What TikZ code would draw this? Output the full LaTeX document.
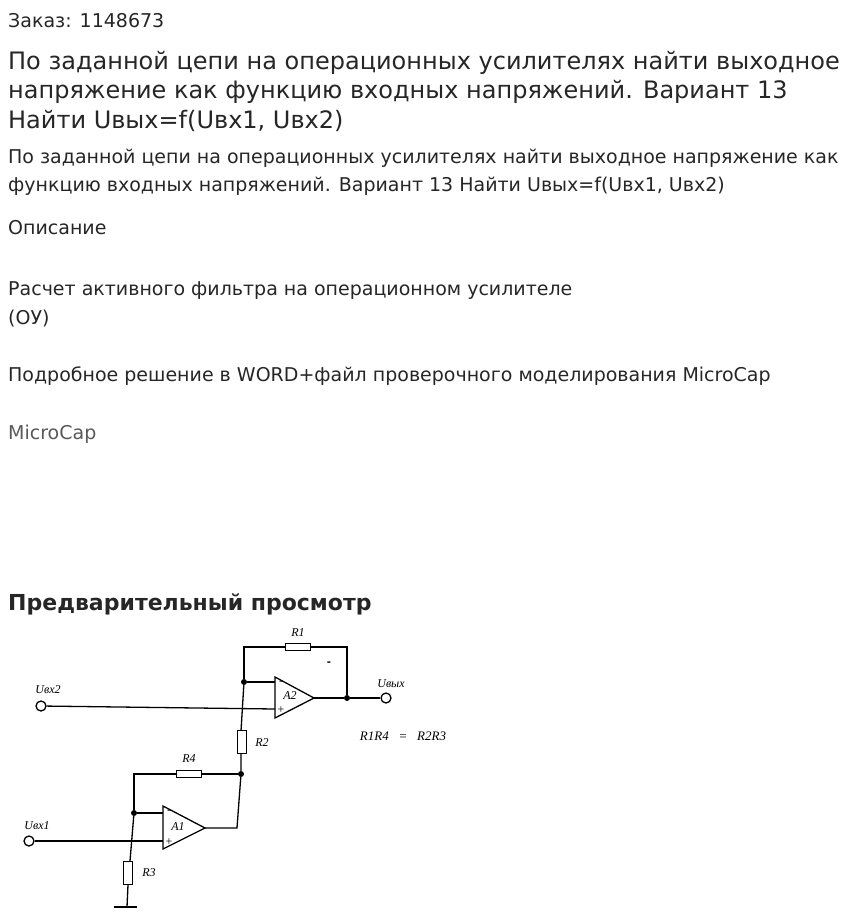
\documentclass[tikz,border=0pt]{standalone}
\usepackage{fontspec}
\setmainfont{DejaVu Sans}
\newfontfamily\lbl{Liberation Serif}
\begin{document}
\begin{tikzpicture}[x=1pt,y=-1pt,
  txt/.style={anchor=west,inner sep=0pt,text=black!85},
  res/.style={draw,line width=1.3pt,fill=white,minimum width=#1,minimum height=7,inner sep=0pt},
  vres/.style={draw,line width=1.3pt,fill=white,minimum width=9,minimum height=23,inner sep=0pt},
  w/.style={line width=1.3pt},
  dot/.style={circle,fill,inner sep=0pt,minimum size=6},
  term/.style={circle,draw,line width=1.3pt,fill=white,inner sep=0pt,minimum size=10},
  cl/.style={font=\lbl\itshape\fontsize{12}{12}\selectfont,inner sep=0pt}]
\useasboundingbox (0,0) rectangle (847,924);
\node[txt,font=\fontsize{19}{22}\selectfont] (t0) at (8,21) {Заказ: 1148673};
\node[txt,font=\fontsize{24}{28}\selectfont] (h1) at (8,63) {По заданной цепи на операционных усилителях найти выходное};
\node[txt,font=\fontsize{24}{28}\selectfont] (h2) at (8,92) {напряжение как функцию входных напряжений. Вариант 13};
\node[txt,font=\fontsize{24}{28}\selectfont] (h3) at (8,121) {Найти Uвых=f(Uвх1, Uвх2)};
\node[txt,font=\fontsize{19}{22}\selectfont] (b1) at (8,158) {По заданной цепи на операционных усилителях найти выходное напряжение как};
\node[txt,font=\fontsize{19}{22}\selectfont] (b2) at (8,186) {функцию входных напряжений. Вариант 13 Найти Uвых=f(Uвх1, Uвх2)};
\node[txt,font=\fontsize{19}{22}\selectfont] (d0) at (8,228) {Описание};
\node[txt,font=\fontsize{19}{22}\selectfont] (d1) at (8,291) {Расчет активного фильтра на операционном усилителе};
\node[txt,font=\fontsize{19}{22}\selectfont] (d2) at (8,319) {(ОУ)};
\node[txt,font=\fontsize{19}{22}\selectfont] (d3) at (8,376) {Подробное решение в WORD+файл проверочного моделирования MicroCap};
\node[txt,font=\fontsize{19}{22}\selectfont,text=black!65] (d4) at (8,434) {MicroCap};
\node[txt,font=\bfseries\fontsize{22}{26}\selectfont] (pv) at (8,604) {Предварительный просмотр};
% op-amps
\coordinate (A2l1) at (275,677); \coordinate (A2l2) at (275,718); \coordinate (A2o) at (314,698);
\draw[w] (A2l1) -- (A2o) -- (A2l2) -- cycle;
\node[cl] (A2n) at (290,696) {A2};
\node[cl] (A2m) at (281,683) {-}; \node[cl] (A2p) at (281,710) {+};
\coordinate (A1l1) at (163,806); \coordinate (A1l2) at (163,849); \coordinate (A1o) at (205,828);
\draw[w] (A1l1) -- (A1o) -- (A1l2) -- cycle;
\node[cl] (A1n) at (178,827) {A1};
\node[cl] (A1m) at (169,812) {-}; \node[cl] (A1p) at (169,842) {+};
% nodes
\node[dot] (j1) at (244,682) {};
\node[dot] (jo) at (347,698) {};
\node[dot] (j2) at (241,774) {};
\node[dot] (j3) at (134,813) {};
\node[term] (uo) at (386,698) {};
\node[term] (u2) at (41,706) {};
\node[term] (u1) at (29,841) {};
\coordinate (c1) at (244,647); \coordinate (c2) at (347,647);
\coordinate (c3) at (134,774); \coordinate (c4) at (237,828);
\coordinate (g) at (127,907);
% wires
\draw[w] (j1) -- (275,682);
\draw[w] (j1) -- (c1) -- (c2) -- (jo);
\draw[w] (A2o) -- (jo) -- (uo);
\draw[w] (u2) -- (275,709);
\draw[w] (j1) -- (241,731) -- (j2);
\draw[w] (j2) -- (c3) -- (j3);
\draw[w] (j3) -- (163,813);
\draw[w] (A1o) -- (c4) -- (j2);
\draw[w] (u1) -- (163,841);
\draw[w] (j3) -- (128,885) -- (g);
\draw[line width=2.5pt] (114,907) -- (137,907);
\node[res=25] (R1) at (298,647) {};
\node[vres] (R2) at (242,742) {};
\node[res=25] (R4) at (189,774) {};
\node[vres] (R3) at (128,873) {};
\node[cl] (R1l) at (298,633) {R1};
\node[cl] (R2l) at (262,743) {R2};
\node[cl] (R3l) at (149,873) {R3};
\node[cl] (R4l) at (189,759) {R4};
\node[cl,font=\bfseries] (mi) at (329,664) {-};
\node[cl] (uol) at (391,684) {Uвых};
\node[cl] (u2l) at (48,690) {Uвх2};
\node[cl] (u1l) at (37,826) {Uвх1};
\node[cl,font=\lbl\itshape\fontsize{13}{13}\selectfont] (eq) at (403,736) {R1R4 \ \ = \ \ R2R3};
\end{tikzpicture}
\end{document}
